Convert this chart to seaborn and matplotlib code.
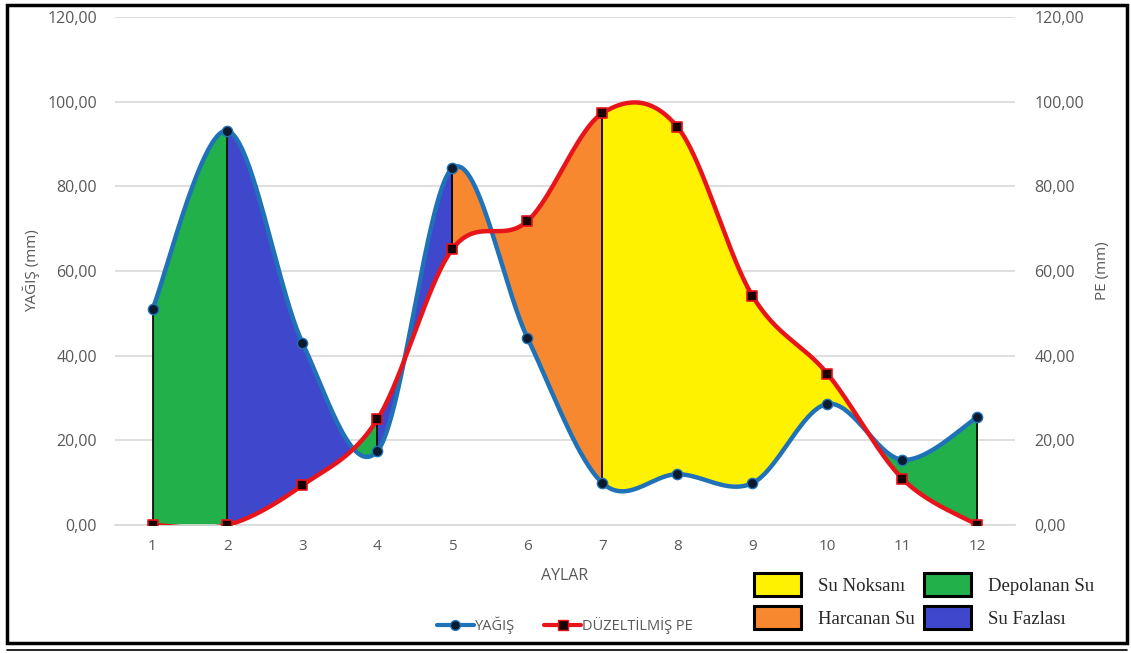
import numpy as np
import pandas as pd
import matplotlib
matplotlib.use("Agg")
import matplotlib.pyplot as plt
import seaborn as sns
from matplotlib.lines import Line2D
from matplotlib.patches import Patch, Rectangle

# monthly values
months = [1, 2, 3, 4, 5, 6, 7, 8, 9, 10, 11, 12]
yagis = [51.0, 93.1, 43.0, 17.5, 84.3, 44.2, 9.9, 12.0, 9.9, 28.6, 15.4, 25.5]
pe = [0.0, 0.0, 9.4, 25.0, 65.2, 71.8, 97.3, 94.0, 54.1, 35.7, 10.9, 0.0]
ytick_vals = [0, 20, 40, 60, 80, 100, 120]

legend_names = ["Su Noksanı", "Harcanan Su", "Depolanan Su", "Su Fazlası"]
zone_colors = {"Su Noksanı": "#FFF200", "Harcanan Su": "#F7882F",
               "Depolanan Su": "#22B04B", "Su Fazlası": "#3F48CC"}


def excel_smooth(x, y, n=60):
    # bezier smoothing like excel "smoothed line"
    P = np.column_stack([x, y]).astype(float)
    xs, ys = [], []
    for i in range(len(P) - 1):
        p0 = P[i - 1] if i > 0 else P[i]
        p1, p2 = P[i], P[i + 1]
        p3 = P[i + 2] if i + 2 < len(P) else P[i + 1]
        c1 = p1 + (p2 - p0) / 6
        c2 = p2 - (p3 - p1) / 6
        t = np.linspace(0, 1, n)[:, None]
        if i > 0:
            t = t[1:]
        b = (1 - t) ** 3 * p1 + 3 * (1 - t) ** 2 * t * c1 + 3 * (1 - t) * t ** 2 * c2 + t ** 3 * p2
        xs.append(b[:, 0])
        ys.append(b[:, 1])
    return np.concatenate(xs), np.concatenate(ys)


sx, sy = excel_smooth(months, yagis)
_, sp = excel_smooth(months, pe)

# crossing points of the two curves
diff = sy - sp
cross = [sx[i] for i in range(len(diff) - 1) if np.sign(diff[i]) != np.sign(diff[i + 1])]
c1 = [c for c in cross if 3 < c < 4][0]
c2 = [c for c in cross if 10 < c < 11.5][0]

zones = [(1, 2, "Depolanan Su"), (2, c1, "Su Fazlası"), (c1, 4, "Depolanan Su"),
         (4, 5, "Su Fazlası"), (5, 7, "Harcanan Su"), (7, c2, "Su Noksanı"),
         (c2, 12, "Depolanan Su")]

sns.set_theme(style="white")
plt.rcParams['font.family'] = ['Open Sans', 'DejaVu Sans']

fig = plt.figure(figsize=(11.31, 6.53), dpi=100)
ax = fig.add_axes([115 / 1131, 128 / 653, 900 / 1131, 508 / 653])

for a, b, name in zones:
    m = (sx >= a - 1e-9) & (sx <= b + 1e-9)
    ax.fill_between(sx[m], sy[m], sp[m], color=zone_colors[name], lw=0, zorder=2)

for xv in [1, 2, 4, 5, 7, 12]:
    i = months.index(xv)
    ax.plot([xv, xv], [yagis[i], pe[i]], color="black", lw=1.2, zorder=3)

smooth_df = pd.DataFrame({"x": sx, "YAĞIŞ": sy, "PE": sp})
sns.lineplot(data=smooth_df, x="x", y="YAĞIŞ", color="#1F72B8", lw=3.2, ax=ax, zorder=4, sort=False)
sns.lineplot(data=smooth_df, x="x", y="PE", color="#E8141B", lw=3.2, ax=ax, zorder=5, sort=False)

pts = pd.DataFrame({"ay": months, "yagis": yagis, "pe": pe})
sns.scatterplot(data=pts, x="ay", y="yagis", marker="o", s=55, color="#0B1A2E",
                edgecolor="#1F72B8", linewidth=1, ax=ax, zorder=6)
sns.scatterplot(data=pts, x="ay", y="pe", marker="s", s=50, color="#1A0000",
                edgecolor="#E8141B", linewidth=1.2, ax=ax, zorder=7)

ax.set_xlim(0.5, 12.5)
ax.set_ylim(0, 120)
ax.set_xticks(months)
ax.set_yticks(ytick_vals)
ax.set_yticklabels([f"{v:.2f}".replace(".", ",") for v in ytick_vals])
ax.grid(axis="y", color="#D9D9D9", lw=1.2, zorder=0)
ax.set_axisbelow(True)
for s in ["top", "right", "left"]:
    ax.spines[s].set_visible(False)
ax.spines["bottom"].set_color("#D9D9D9")
ax.tick_params(axis="both", colors="#595959", labelsize=11.5, length=0, pad=13)
ax.tick_params(axis="x", pad=10, labelsize=11)
ax.set_xlabel("AYLAR", color="#595959", fontsize=11.5, labelpad=10)
ax.set_ylabel("YAĞIŞ (mm)", color="#595959", fontsize=11, labelpad=5)

ax2 = ax.twinx()
ax2.set_ylim(0, 120)
ax2.set_yticks(ytick_vals)
ax2.set_yticklabels([f"{v:.2f}".replace(".", ",") for v in ytick_vals])
for s in ax2.spines.values():
    s.set_visible(False)
ax2.tick_params(axis="y", colors="#595959", labelsize=11.5, length=0, pad=14)
ax2.set_ylabel("PE (mm)", color="#595959", fontsize=11, labelpad=8)
ax2.grid(False)

# series legend
h1 = Line2D([], [], color="#1F72B8", lw=3, marker="o", markersize=7,
            markerfacecolor="#0B1A2E", markeredgecolor="#1F72B8")
h2 = Line2D([], [], color="#E8141B", lw=3, marker="s", markersize=7,
            markerfacecolor="#1A0000", markeredgecolor="#E8141B")
fig.legend([h1, h2], ["YAĞIŞ", "DÜZELTİLMİŞ PE"], loc="center", bbox_to_anchor=(565 / 1131, 1 - 625 / 653),
           ncol=2, frameon=False, handlelength=2.5, handletextpad=0.1, columnspacing=2,
           labelcolor="#595959", fontsize=10.5)

# water balance legend
patches = [Patch(facecolor=zone_colors[n], edgecolor="black", lw=2.2) for n in legend_names]
fig.legend(patches, legend_names, loc="center", bbox_to_anchor=(924 / 1131, 1 - 601 / 653),
           ncol=2, frameon=False, handlelength=2.5, handleheight=1.55, handletextpad=0.9,
           columnspacing=0.5, labelspacing=0.5,
           prop={"family": "Liberation Serif", "size": 13.5})

# outer frame
fig.patches.append(Rectangle((7 / 1131, 1 - 643 / 653), 1120 / 1131, 638 / 653,
                             transform=fig.transFigure, fill=False, ec="black", lw=2.5))
fig.lines.append(Line2D([7 / 1131, 1127 / 1131], [1 - 650 / 653, 1 - 650 / 653],
                        transform=fig.transFigure, color="black", lw=1.2))

fig.savefig("out.png", dpi=100)
